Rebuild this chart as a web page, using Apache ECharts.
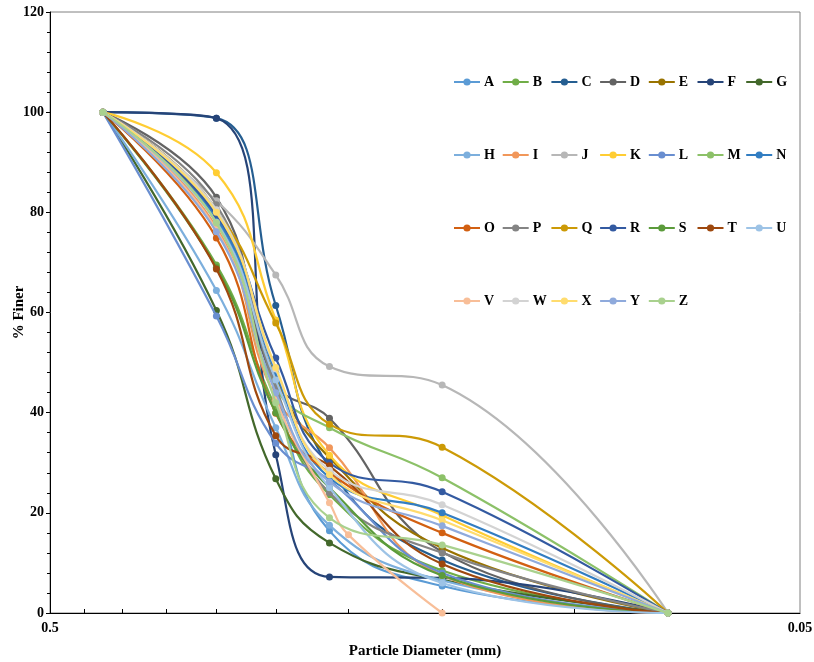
<!DOCTYPE html>
<html>
<head>
<meta charset="utf-8">
<script src="https://cdn.jsdelivr.net/npm/echarts@6/dist/echarts.min.js"></script>
<style>
html,body{margin:0;padding:0;background:#fff;}
#chart{width:814px;height:662px;}
</style>
</head>
<body>
<div id="chart"></div>
<script>
// Sieve sizes (mm)
var sizes = [0.425, 0.3, 0.25, 0.212, 0.15, 0.075];
var sizesV = [0.425, 0.3, 0.25, 0.212, 0.2, 0.15];

var names = ['A','B','C','D','E','F','G','H','I','J','K','L','M','N','O','P','Q','R','S','T','U','V','W','X','Y','Z'];

var A = [100, 78.5, 44, 16.4, 5.4, 0];
var B = [100, 69.5, 41, 23.6, 8.5, 0];
var C = [100, 98.8, 61.4, 29, 10.6, 0];
var D = [100, 83, 46, 38.9, 12.2, 0];
var E = [100, 80.5, 47, 31, 13, 0];
var F = [100, 98.8, 31.6, 7.2, 7, 0];
var G = [100, 60.4, 26.8, 14, 6.6, 0];
var H = [100, 64.4, 37, 17.5, 6.5, 0];
var I = [100, 77, 43, 33, 7.5, 0];
var J = [100, 82.3, 67.5, 49.2, 45.5, 0];
var K = [100, 87.9, 58.5, 31.5, 19.5, 0];
var L = [100, 59.3, 33.9, 26.5, 8, 0];
var M = [100, 78, 45, 37, 27, 0];
var N = [100, 79, 48, 27, 20, 0];
var O = [100, 74.9, 39.9, 28, 16, 0];
var P = [100, 81.5, 45, 24, 12, 0];
var Q = [100, 80.1, 57.9, 37.7, 33.1, 0];
var R = [100, 79.5, 50.9, 30, 24.2, 0];
var S = [100, 69, 40, 25, 7.5, 0];
var T = [100, 68.7, 35.4, 29.4, 9.8, 0];
var U = [100, 78, 46.5, 25, 6, 0];
var V = [100, 76.5, 42.5, 22, 15.6, 0];
var W = [100, 80.5, 48.7, 28.5, 21.6, 0];
var X = [100, 80, 49, 27.6, 18.5, 0];
var Y = [100, 76.1, 44, 26.2, 17.4, 0];
var Z = [100, 77.9, 42, 19, 13.6, 0];

var values = [A,B,C,D,E,F,G,H,I,J,K,L,M,N,O,P,Q,R,S,T,U,V,W,X,Y,Z];

var colors = ['#5B9BD5','#70AD47','#255E91','#636363','#997300','#264478','#43682B',
              '#7CAFDD','#F1975A','#B7B7B7','#FFCD33','#698ED0','#8CC168','#327DC2',
              '#D26012','#848484','#CC9A06','#335AA1','#5B9B3B','#9E480E','#9DC3E6',
              '#F8BE98','#D3D3D3','#FFDC6E','#8FAADC','#A9D18E'];

var xLabelValues = [0.5, 0.05];
var xMinorTicks = [0.45, 0.4, 0.35, 0.3, 0.25, 0.2, 0.15, 0.1];

var font = 'Liberation Serif';

var series = names.map(function (n, i) {
  var xs = n === 'V' ? sizesV : sizes;
  return {
    name: n,
    type: 'line',
    smooth: 0.45,
    symbol: 'circle',
    symbolSize: 7,
    color: colors[i],
    lineStyle: { width: 2.2, color: colors[i] },
    itemStyle: { color: colors[i] },
    data: values[i].map(function (v, j) { return [xs[j], v]; }),
    z: 2 + i
  };
});

// one legend per item, 7 per row
var legends = names.map(function (n, i) {
  var col = i % 7, row = Math.floor(i / 7);
  return {
    data: [n],
    left: 453 + col * 48.7,
    top: 75 + row * 73,
    padding: 0,
    itemWidth: 26,
    itemHeight: 9,
    itemGap: 0,
    selectedMode: false,
    textStyle: { fontFamily: font, fontWeight: 'bold', fontSize: 14, color: '#000', padding: [0, 0, 0, -1] }
  };
});

var chart = echarts.init(document.getElementById('chart'), null, { renderer: 'canvas' });
chart.setOption({
  animation: false,
  backgroundColor: '#fff',
  grid: { left: 50, right: 14, top: 12, bottom: 49, containLabel: false, outerBoundsMode: 'none',
          show: true, borderColor: '#808080', borderWidth: 1 },
  legend: legends,
  xAxis: {
    type: 'log',
    logBase: 10,
    min: 0.05,
    max: 0.5,
    inverse: true,
    name: 'Particle Diameter (mm)',
    nameLocation: 'middle',
    nameGap: 31,
    nameMoveOverlap: false,
    nameTextStyle: { fontFamily: font, fontWeight: 'bold', fontSize: 15, color: '#000' },
    axisLine: { show: true, lineStyle: { color: '#000', width: 1 } },
    axisTick: { show: true, inside: true, length: 4, customValues: xMinorTicks, lineStyle: { color: '#000' } },
    axisLabel: { customValues: xLabelValues, fontFamily: font, fontWeight: 'bold', fontSize: 14, color: '#000', margin: 8,
                 formatter: function (v) { return String(+v.toFixed(3)); } },
    splitLine: { show: false },
    minorTick: { show: false }
  },
  yAxis: {
    type: 'value',
    min: 0,
    max: 120,
    interval: 20,
    name: '% Finer',
    nameLocation: 'middle',
    nameGap: 23,
    nameMoveOverlap: false,
    nameTextStyle: { fontFamily: font, fontWeight: 'bold', fontSize: 15, color: '#000' },
    axisLine: { show: true, lineStyle: { color: '#000', width: 1 } },
    axisTick: { show: true, inside: false, length: 4, lineStyle: { color: '#000' } },
    minorTick: { show: true, splitNumber: 5, length: 3, lineStyle: { color: '#000' } },
    axisLabel: { fontFamily: font, fontWeight: 'bold', fontSize: 14, color: '#000', margin: 6 },
    splitLine: { show: false }
  },
  series: series
});
</script>
</body>
</html>
